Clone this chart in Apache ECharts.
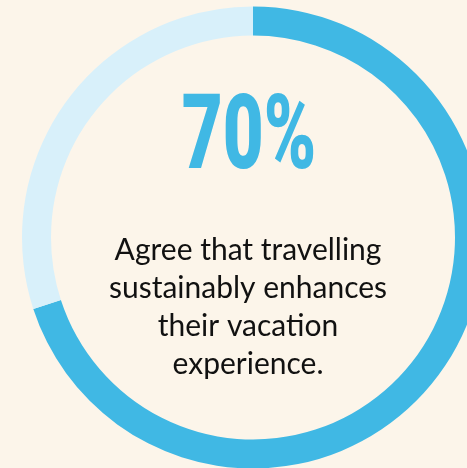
<!DOCTYPE html>
<html>
<head>
<meta charset="utf-8">
<style>
  html, body { margin: 0; padding: 0; background: #fcf5ea; }
  #chart { width: 467px; height: 468px; }
</style>
<script src="https://cdn.jsdelivr.net/npm/echarts@6/dist/echarts.min.js"></script>
</head>
<body>
<div id="chart"></div>
<script>
// Share of respondents who agree vs. the rest
const categories = ['Agree', 'Other'];
const values = [70, 30];
const headline = 'Agree that travelling\nsustainably enhances\ntheir vacation\nexperience.';

const BLUE = '#40b8e4';
const LIGHT = '#d8f0fa';

const chart = echarts.init(document.getElementById('chart'), null, { renderer: 'canvas' });

const total = values.reduce((a, b) => a + b, 0);
const pct = Math.round(values[0] / total * 100) + '%';

chart.setOption({
  backgroundColor: '#fcf5ea',
  animation: false,
  series: [{
    type: 'pie',
    center: [253, 237.5],
    radius: [202, 231],
    startAngle: 90,
    clockwise: true,
    silent: true,
    label: { show: false },
    labelLine: { show: false },
    emphasis: { disabled: true },
    data: categories.map((name, i) => ({
      name,
      value: values[i],
      itemStyle: { color: i === 0 ? BLUE : LIGHT, borderWidth: 0 }
    }))
  }],
  graphic: [
    {
      type: 'text',
      x: 249,
      y: 142,
      scaleX: 0.68,
      silent: true,
      style: {
        text: pct,
        fill: BLUE,
        font: '900 104px Roboto',
        textAlign: 'center',
        textVerticalAlign: 'middle'
      }
    },
    {
      type: 'text',
      x: 248,
      y: 231,
      silent: true,
      style: {
        text: headline,
        fill: '#111111',
        font: '30px Lato',
        lineHeight: 38,
        textAlign: 'center',
        textVerticalAlign: 'top'
      }
    }
  ]
});
</script>
</body>
</html>
